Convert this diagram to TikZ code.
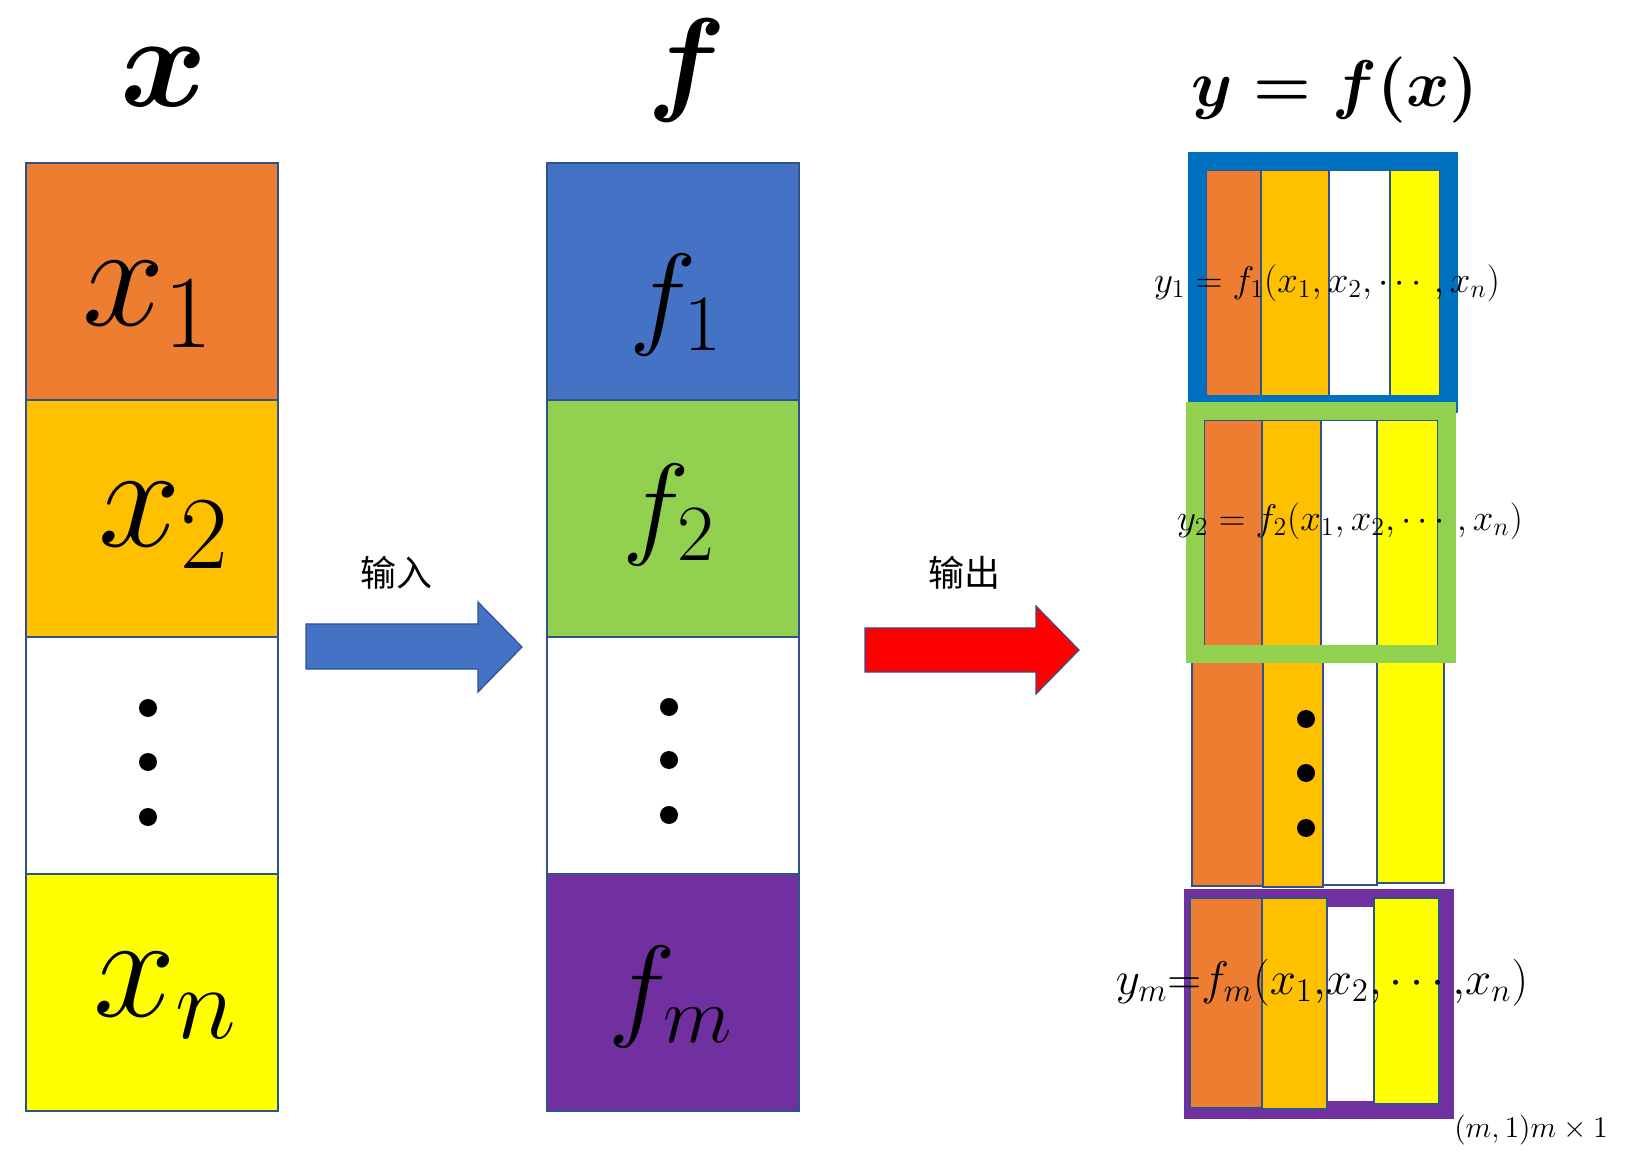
\RequirePackage{fix-cm}
\documentclass[tikz,border=0pt]{standalone}
\usepackage{amsmath}
\usepackage{fontspec}
\newfontfamily\cjk{Noto Sans CJK SC}
\usetikzlibrary{positioning}

\definecolor{cellorange}{HTML}{ED7D31}
\definecolor{cellgold}{HTML}{FFC000}
\definecolor{cellyellow}{HTML}{FFFF00}
\definecolor{cellblue}{HTML}{4472C4}
\definecolor{cellgreen}{HTML}{92D050}
\definecolor{cellpurple}{HTML}{7030A0}
\definecolor{lineblue}{HTML}{2F528F}
\definecolor{frameblue}{HTML}{0070C0}

\tikzset{
  cell/.style={draw=lineblue,line width=0.8pt,minimum width=126pt,minimum height=118.5pt,inner sep=0pt},
  xlab/.style={font=\fontsize{74pt}{80pt}\selectfont,inner sep=0pt},
  flab/.style={font=\fontsize{57pt}{62pt}\selectfont,inner sep=0pt},
  eqn/.style={font=\fontsize{18.5pt}{22pt}\selectfont,inner sep=0pt},
  stripe/.style={draw=lineblue,line width=0.7pt},
  thickframe/.style={line width=9pt},
  blockarrow/.style={draw=lineblue,line width=0.6pt},
}

\begin{document}
\begin{tikzpicture}[x=0.5pt,y=-0.5pt,node distance=118.5pt,on grid]
    \useasboundingbox (0,0) rectangle (1633,1154);

    % input vector x
    \node[cell,fill=cellorange] (x1) at (152,281.5) {};
    \node[cell,fill=cellgold] (x2) [below=of x1] {};
    \node[cell,fill=white] (x3) [below=of x2] {};
    \node[cell,fill=cellyellow] (xn) [below=of x3] {};

    % functions f
    \node[cell,fill=cellblue] (f1) [right=260.5pt of x1] {};
    \node[cell,fill=cellgreen] (f2) [below=of f1] {};
    \node[cell,fill=white] (f3) [below=of f2] {};
    \node[cell,fill=cellpurple] (fm) [below=of f3] {};

    \node[xlab] (tx1) at (148,305) {$x_1$};
    \node[xlab] (tx2) at (164,526) {$x_2$};
    \node[xlab] (txn) at (165,996) {$x_n$};
    \node[flab] (tf1) at (676,305) {$f_1$};
    \node[flab] (tf2) at (669,515) {$f_2$};
    \node[flab] (tfm) at (671,997) {$f_m$};

    \fill (148,708) circle (4.5pt);
    \fill (148,762) circle (4.5pt);
    \fill (148,817) circle (4.5pt);
    \fill (669,707) circle (4.5pt);
    \fill (669,760) circle (4.5pt);
    \fill (669,815) circle (4.5pt);

    % titles
    \node[inner sep=0pt,font=\fontsize{66pt}{70pt}\selectfont\boldmath] (tx) at (164,77) {$x$};
    \node[inner sep=0pt,font=\fontsize{58pt}{62pt}\selectfont\boldmath] (tf) at (687,71) {$f$};
    \node[inner sep=0pt,font=\fontsize{33pt}{38pt}\selectfont\boldmath] (ty) at (1335,90) {$y = f(x)$};

    % arrows
    \filldraw[blockarrow,fill=cellblue] (306,624) -- (478,624) -- (478,602) -- (522,647)
      -- (478,692) -- (478,669) -- (306,669) -- cycle;
    \filldraw[blockarrow,fill=red] (865,628) -- (1036,628) -- (1036,606) -- (1079,650)
      -- (1036,694) -- (1036,672) -- (865,672) -- cycle;
    \node[font=\fontsize{18pt}{20pt}\selectfont\cjk] (lin) at (396,573) {输入};
    \node[font=\fontsize{18pt}{20pt}\selectfont\cjk] (lout) at (964,573) {输出};

    % output y
    \filldraw[stripe,fill=cellorange] (1206,170) rectangle (1261,396);
    \filldraw[stripe,fill=cellgold] (1261,170) rectangle (1329,396);
    \filldraw[stripe,fill=white] (1329,170) rectangle (1390,396);
    \filldraw[stripe,fill=cellyellow] (1390,170) rectangle (1440,396);
    \draw[thickframe,frameblue] (1197,161) rectangle (1449,404);

    \filldraw[stripe,line width=1pt,fill=cellorange] (1192,650) rectangle (1263,886);
    \filldraw[stripe,line width=1pt,fill=cellgold] (1263,650) rectangle (1323,887);
    \filldraw[stripe,line width=1pt,fill=white] (1323,650) rectangle (1377,885);
    \filldraw[stripe,line width=1pt,fill=cellyellow] (1377,650) rectangle (1444,883);
    \fill (1306,719) circle (4.5pt);
    \fill (1306,773) circle (4.5pt);
    \fill (1306,828) circle (4.5pt);

    \filldraw[stripe,fill=cellorange] (1204,420) rectangle (1262,646);
    \filldraw[stripe,fill=cellgold] (1262,420) rectangle (1321,646);
    \filldraw[stripe,fill=white] (1321,420) rectangle (1377,646);
    \filldraw[stripe,fill=cellyellow] (1377,420) rectangle (1438,646);
    \draw[thickframe,cellgreen] (1195,411) rectangle (1447,654);

    \draw[thickframe,cellpurple] (1193,898) rectangle (1445,1110);
    \filldraw[stripe,line width=1pt,fill=cellorange] (1190,898) rectangle (1262,1108);
    \filldraw[stripe,line width=1pt,fill=cellgold] (1262,898) rectangle (1327,1109);
    \filldraw[stripe,line width=1pt,fill=cellyellow] (1374,898) rectangle (1439,1104);

    \node[eqn] (eq1) at (1327,283) {$y_1 = f_1(x_1, x_2, \cdots, x_n)$};
    \node[eqn] (eq2) at (1350,521) {$y_2 = f_2(x_1, x_2, \cdots, x_n)$};
    \node[inner sep=0pt,font=\fontsize{23.5pt}{27pt}\selectfont] (eqm) at (1322,983)
      {$y_m{=}f_m(x_1{,}x_2{,}\cdots{,}x_n)$};
    \node[inner sep=0pt,font=\fontsize{15pt}{18pt}\selectfont] (dim) at (1531,1130) {$(m,1)m\times1$};
\end{tikzpicture}
\end{document}
